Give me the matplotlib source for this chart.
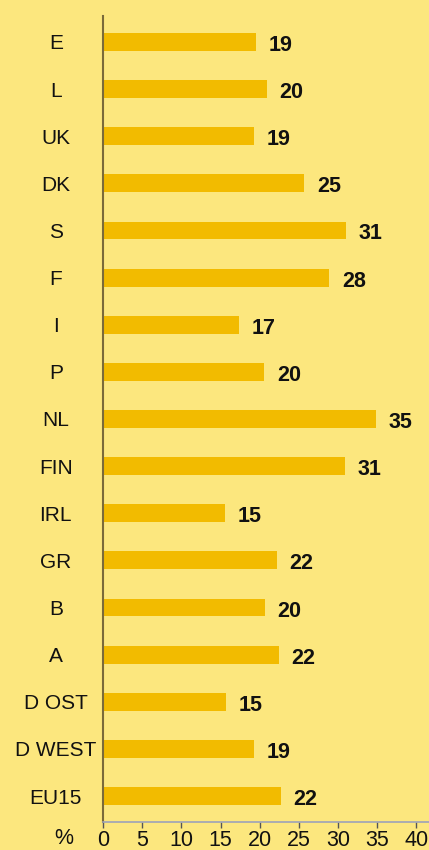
import numpy as np
import matplotlib
matplotlib.use("Agg")
import matplotlib.pyplot as plt

plt.rcParams['font.family'] = ['Liberation Sans', 'DejaVu Sans']

# Datos (de arriba hacia abajo)
paises = ["E", "L", "UK", "DK", "S", "F", "I", "P", "NL", "FIN",
          "IRL", "GR", "B", "A", "D OST", "D WEST", "EU15"]
longitud = [19.5, 20.9, 19.3, 25.7, 31.0, 28.9, 17.4, 20.6, 34.9, 30.9,
            15.6, 22.2, 20.7, 22.4, 15.7, 19.3, 22.7]
etiquetas = [19, 20, 19, 25, 31, 28, 17, 20, 35, 31,
             15, 22, 20, 22, 15, 19, 22]
ticks_x = [0, 5, 10, 15, 20, 25, 30, 35, 40]

fondo = '#FCE77E'
color_barra = '#F2BB00'

fig = plt.figure(figsize=(4.29, 8.5), dpi=100, facecolor=fondo)
ax = fig.add_axes([103/429, 1 - 822/850, 1 - 103/429, (822 - 16)/850])
ax.set_facecolor(fondo)

n = len(paises)
y = np.arange(n)[::-1]
ax.barh(y, longitud, height=0.38, color=color_barra, zorder=2)

for yi, L, et in zip(y, longitud, etiquetas):
    ax.annotate(str(et), xy=(L, yi), xytext=(9, -2.5), textcoords='offset points',
                ha='left', va='center', fontsize=15.5, fontweight='bold', color='#111111')

ax.set_xlim(0, 41.6)
ax.set_ylim(-0.55, n - 0.45)
ax.set_yticks(y)
ax.set_yticklabels(paises, ha='center', fontsize=15, color='#111111')
ax.tick_params(axis='y', length=0, pad=34)
ax.set_xticks(ticks_x)
ax.set_xticklabels([str(t) for t in ticks_x], fontsize=15.5, color='#111111')
ax.tick_params(axis='x', length=4, width=1, color='#555555', pad=2)

for s in ['top', 'right']:
    ax.spines[s].set_visible(False)
ax.spines['left'].set_color('#7A6A3A')
ax.spines['left'].set_linewidth(1.5)
ax.spines['bottom'].set_color('#9CA2BA')
ax.spines['bottom'].set_linewidth(1.2)

fig.text(64/429, 1 - 839/850, '%', ha='center', va='center', fontsize=15.5, color='#111111')

fig.savefig('out.png', dpi=100, facecolor=fondo)
